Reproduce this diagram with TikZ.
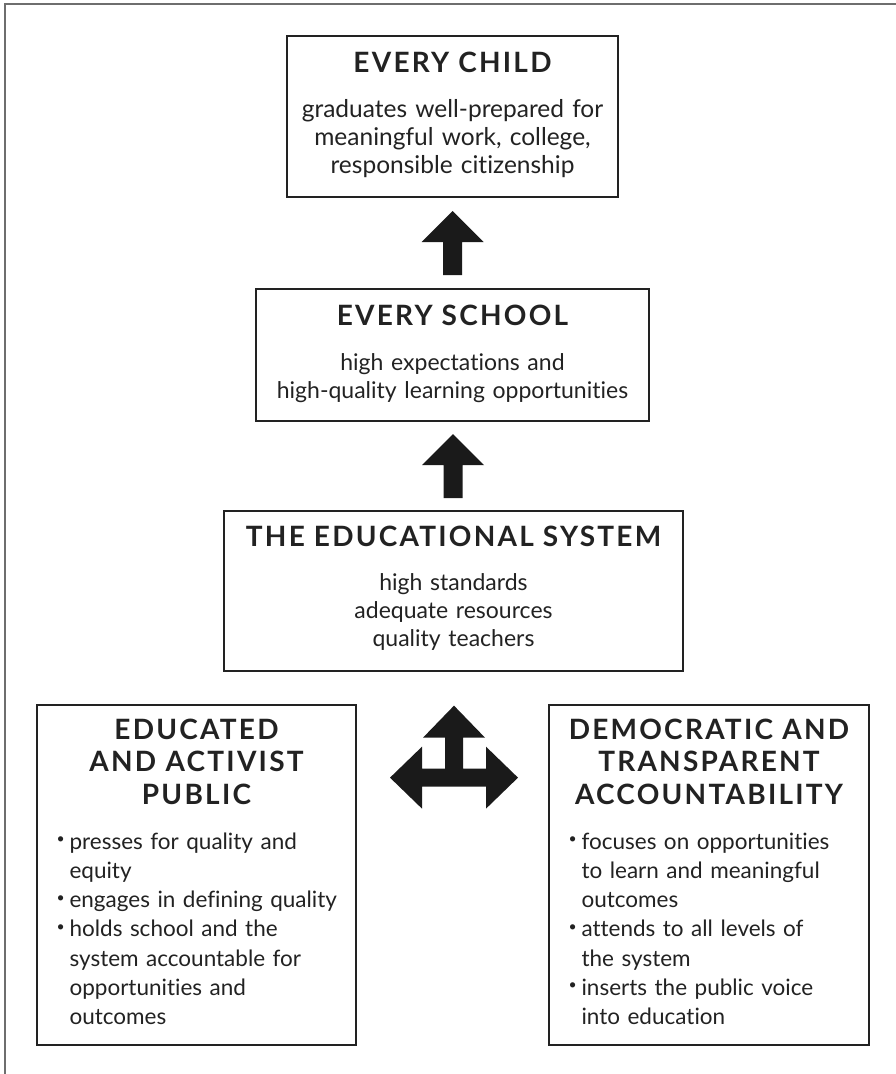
\documentclass[tikz,border=0pt]{standalone}
\usepackage{fontspec}
\setmainfont[Ligatures=NoCommon]{Lato}
\newfontfamily\headfont[LetterSpace=8]{Lato}
\usetikzlibrary{positioning, calc}
\usepackage{xcolor}
\definecolor{ink}{HTML}{222222}
\definecolor{xframe}{HTML}{6E6E6E}
\definecolor{xblack}{HTML}{1A1A1A}

% bullet and hanging indent for the two lower lists
\newcommand{\dotmark}{\makebox[13pt][l]{\raisebox{5.5pt}{\fontsize{14}{14}\selectfont •}}}
\newcommand{\bulpad}{\hspace*{13pt}}

\tikzset{
	box/.style={draw=ink, line width=1.3pt, inner sep=0pt},
	title/.style={font=\headfont\bfseries\fontsize{28}{32.5}\selectfont, text=ink, inner sep=0pt},
	body/.style={font=\fontsize{23}{28}\selectfont, text=ink, inner sep=0pt, align=center},
	list/.style={font=\fontsize{22.5}{29.2}\selectfont, text=ink, inner sep=0pt, align=left, text width=295},
}

\begin{document}
\begin{tikzpicture}[x=1pt, y=-1pt]
		\useasboundingbox (0,0) rectangle (896,1074);
		% outer frame, only top and left edge
		\draw[xframe, line width=1.5pt] (896,4) -- (5,4) -- (5,1074);

		\node[box, minimum width=331, minimum height=161] (child) at (452.5,116.5) {};
		\node[title, anchor=base] (childtitle) at ($(child.north)+(0,37)$) {EVERY CHILD};
		\node[body, font=\fontsize{24.5}{28}\selectfont, text width=325, anchor=base] (childtext) at ($(child.north)+(0,82)$) {graduates well-prepared for\\ meaningful work, college,\\ responsible citizenship};

		\node[box, minimum width=393, minimum height=132] (school) at (452.5,355) {};
		\node[title, anchor=base] (schooltitle) at ($(school.north)+(0,37)$) {EVERY SCHOOL};
		\node[body, text width=385, anchor=base] (schooltext) at ($(school.north)+(0,82)$) {high expectations and\\ high-quality learning opportunities};

		\node[box, minimum width=459, minimum height=160] (system) at (453.5,591) {};
		\node[title, anchor=base] (systemtitle) at ($(system.north)+(0,36)$) {THE EDUCATIONAL SYSTEM};
		\node[body, text width=450, anchor=base] (systemtext) at ($(system.north)+(0,80)$) {high standards\\ adequate resources\\ quality teachers};

		% block arrows between the stacked boxes
		\coordinate (lift1) at ($(child.south)!0.5!(school.north)$);
		\coordinate (lift2) at ($(school.south)!0.5!(system.north)$);
		\foreach \c in {lift1, lift2}
			\fill[xblack] ($(\c)+(0,-32)$) -- ++(31,31) -- ++(-21.5,0) -- ++(0,33) -- ++(-19,0) -- ++(0,-33) -- ++(-21.5,0) -- cycle;

		\node[box, minimum width=319, minimum height=340] (public) at (196.5,875) {};
		\node[title, text width=310, align=center, anchor=base] (publictitle) at ($(public.north)+(0,35)$) {EDUCATED\\ AND ACTIVIST\\ PUBLIC};
		\node[list, anchor=base west] (publiclist) at ($(public.north west)+(20,145)$) {\dotmark presses for quality and\\ \bulpad equity\\ \dotmark engages in defining quality\\ \dotmark holds school and the\\ \bulpad system accountable for\\ \bulpad opportunities and\\ \bulpad outcomes};

		\node[box, minimum width=320, minimum height=340] (account) at (709,875) {};
		\node[title, text width=310, align=center, anchor=base] (accounttitle) at ($(account.north)+(0,35)$) {DEMOCRATIC AND\\ TRANSPARENT\\ ACCOUNTABILITY};
		\node[list, anchor=base west] (accountlist) at ($(account.north west)+(20,145)$) {\dotmark focuses on opportunities\\ \bulpad to learn and meaningful\\ \bulpad outcomes\\ \dotmark attends to all levels of\\ \bulpad the system\\ \dotmark inserts the public voice\\ \bulpad into education};

		% four-way arrow below the system box
		\coordinate (hub) at ($(system.south)+(0.5,106)$);
		\fill[xblack] ($(hub)+(0,-72)$) -- ++(31,32) -- ++(-22,0) -- ++(0,31) -- ++(23,0) -- ++(0,-22) -- ++(32,31) -- ++(-32,31) -- ++(0,-22) -- ++(-64,0) -- ++(0,22) -- ++(-32,-31) -- ++(32,-31) -- ++(0,22) -- ++(23,0) -- ++(0,-31) -- ++(-22,0) -- cycle;
	\end{tikzpicture}
\end{document}
